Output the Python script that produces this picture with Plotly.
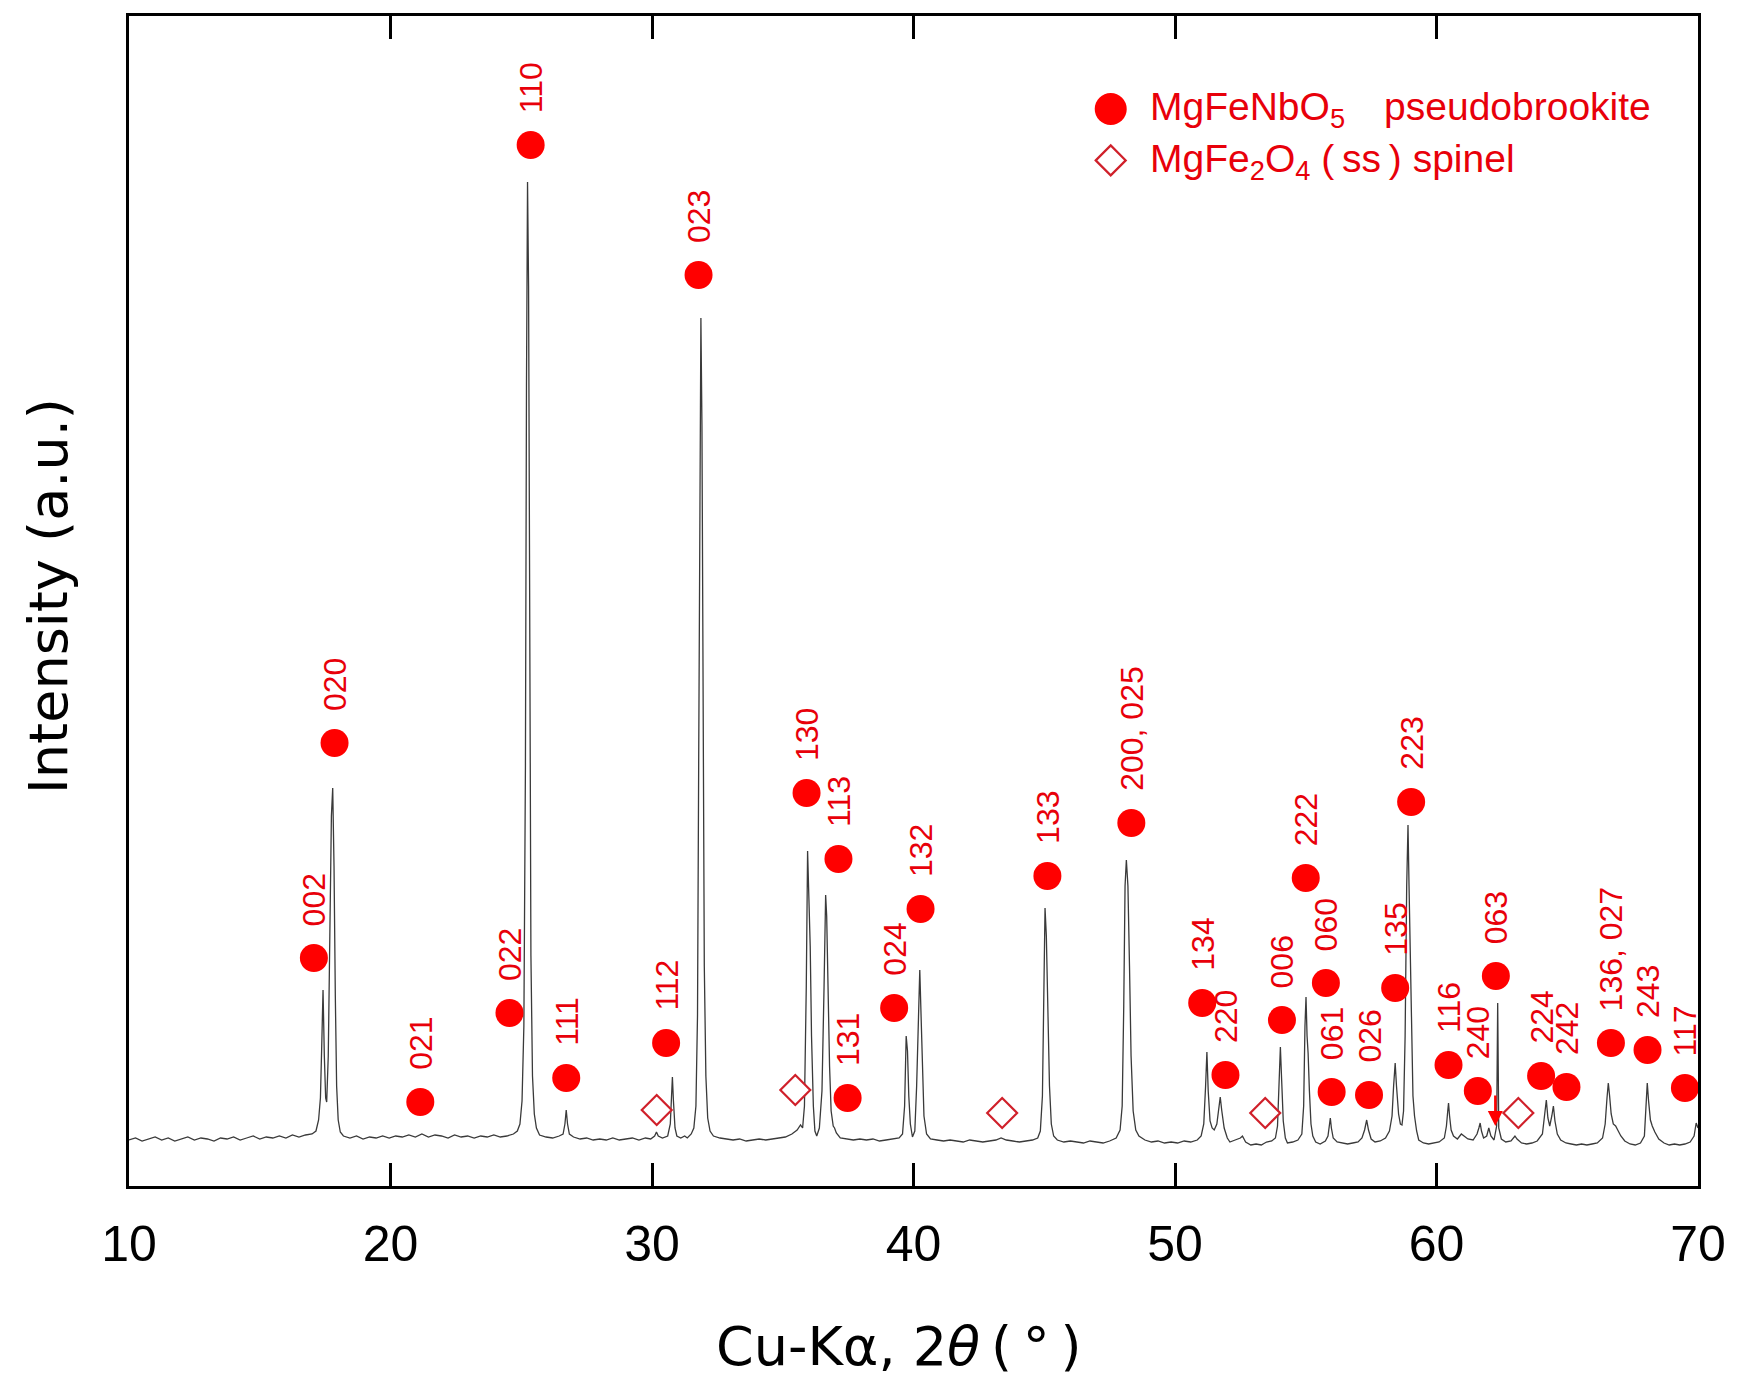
import plotly.graph_objects as go

# ---- XRD pattern (2theta in degrees, intensity a.u.) ----
two_theta = [
    10.0, 10.25, 10.5, 10.75, 11.0, 11.25, 11.5, 11.75, 12.0, 12.25, 12.5, 12.75, 13.0, 13.25, 13.5, 13.75,
    14.0, 14.25, 14.5, 14.75, 15.0, 15.25, 15.5, 15.75, 16.0, 16.25, 16.5, 16.75, 17.0,
    17.15, 17.25, 17.32, 17.37, 17.42, 17.47, 17.52, 17.56, 17.62, 17.68, 17.74, 17.79, 17.84, 17.89, 17.94,
    18.0, 18.08, 18.2,
    18.45, 18.7, 18.95, 19.2, 19.45, 19.7, 19.95, 20.2, 20.45, 20.7, 20.95, 21.2, 21.45, 21.7, 21.95, 22.2,
    22.45, 22.7, 22.95, 23.2, 23.45, 23.7, 23.95, 24.2, 24.45, 24.7,
    24.85, 24.95, 25.03, 25.1, 25.16, 25.2, 25.24, 25.28, 25.32, 25.37, 25.43, 25.5, 25.58, 25.7,
    25.95, 26.2, 26.45,
    26.6, 26.67, 26.72, 26.77, 26.84, 27.0,
    27.25, 27.5, 27.75, 28.0, 28.25, 28.5, 28.75, 29.0, 29.25, 29.5, 29.75, 29.95,
    30.1, 30.17, 30.24, 30.4,
    30.6, 30.7, 30.75, 30.78, 30.82, 30.88, 30.95, 31.1, 31.25, 31.35,
    31.5, 31.6, 31.68, 31.74, 31.79, 31.83, 31.87, 31.91, 31.95, 32.0, 32.06, 32.13, 32.22, 32.35,
    32.6, 32.85, 33.1, 33.35, 33.6, 33.85, 34.1, 34.35, 34.6, 34.85, 35.1, 35.35,
    35.55, 35.68, 35.76, 35.83, 35.9, 35.95, 35.99, 36.05, 36.1, 36.17, 36.23, 36.3, 36.4, 36.5, 36.58,
    36.64, 36.68, 36.73, 36.79, 36.85, 36.93, 36.98, 37.05, 37.2,
    37.45, 37.7, 37.95, 38.2, 38.45, 38.7, 38.95, 39.2, 39.45,
    39.58, 39.66, 39.72, 39.77, 39.82, 39.88, 39.96, 40.05, 40.12, 40.2, 40.24, 40.29, 40.34, 40.4, 40.5, 40.65,
    40.9, 41.15, 41.4, 41.65, 41.9, 42.15, 42.4, 42.65, 42.9, 43.15, 43.35, 43.55, 43.8, 44.05, 44.3, 44.55, 44.75,
    44.85, 44.93, 44.99, 45.03, 45.08, 45.14, 45.2, 45.27, 45.36, 45.5,
    45.75, 46.0, 46.25, 46.5, 46.75, 47.0, 47.25, 47.5, 47.75,
    47.9, 47.98, 48.04, 48.09, 48.14, 48.2, 48.26, 48.32, 48.4, 48.5, 48.62,
    48.85, 49.1, 49.35, 49.6, 49.85, 50.1, 50.35, 50.6, 50.85,
    51.0, 51.1, 51.17, 51.22, 51.27, 51.34, 51.42, 51.5, 51.6, 51.68, 51.73, 51.79, 51.88, 52.0, 52.1, 52.3,
    52.5, 52.58, 52.7, 52.9, 53.1, 53.3, 53.5, 53.7, 53.84,
    53.92, 53.98, 54.03, 54.08, 54.14, 54.22, 54.3, 54.5, 54.7,
    54.85, 54.92, 54.97, 55.01, 55.05, 55.09, 55.14, 55.2, 55.27, 55.38, 55.55, 55.75,
    55.85, 55.9, 55.94, 55.98, 56.05, 56.2, 56.4, 56.6, 56.8, 57.0, 57.15,
    57.25, 57.33, 57.4, 57.5, 57.65, 57.85, 58.05, 58.2, 58.3,
    58.36, 58.42, 58.47, 58.55, 58.62, 58.68, 58.74,
    58.8, 58.86, 58.91, 58.95, 59.0, 59.05, 59.1, 59.16, 59.24, 59.32, 59.5, 59.7, 59.9, 60.1, 60.3,
    60.38, 60.43, 60.46, 60.5, 60.56, 60.65, 60.8, 60.95, 61.05, 61.2, 61.4, 61.55,
    61.62, 61.67, 61.72, 61.8, 61.92, 62.0, 62.08, 62.2,
    62.3, 62.34, 62.38, 62.48, 62.65, 62.85, 63.0, 63.08, 63.25, 63.45, 63.65, 63.85, 64.05,
    64.13, 64.2, 64.26, 64.33, 64.41, 64.47, 64.53, 64.62, 64.75, 64.95, 65.15, 65.35, 65.55, 65.75, 65.95,
    66.15, 66.35,
    66.45, 66.52, 66.57, 66.62, 66.68, 66.76, 66.85, 66.95, 67.05, 67.2, 67.4, 67.6, 67.8, 67.95,
    68.0, 68.06, 68.11, 68.18, 68.25, 68.35, 68.5, 68.7, 68.9, 69.1, 69.3, 69.5, 69.7, 69.85, 69.93, 70.0,
]
intensity = [
    46, 48, 45, 47, 49, 46, 48, 45, 47, 49, 46, 48, 47, 45, 48, 47,
    49, 46, 48, 50, 47, 49, 48, 50, 48, 51, 49, 51, 52,
    55, 66, 88, 140, 196, 130, 88, 84, 130, 250, 370, 398, 320, 190, 100,
    66, 54, 50,
    48, 50, 47, 49, 48, 50, 48, 50, 49, 51, 49, 52, 49, 51, 50, 48,
    51, 49, 50, 48, 50, 49, 51, 49, 50, 52,
    55, 62, 85, 160, 420, 800, 1004, 900, 560, 230, 110, 72, 58, 51,
    49, 48, 50,
    52, 62, 76, 62, 52, 49,
    47, 48, 46, 47, 46, 48, 46, 47, 48, 46, 48, 47,
    50, 54, 50, 48,
    50, 62, 90, 109, 85, 58, 50, 48, 50, 48,
    52, 58, 80, 170, 450, 760, 868, 760, 480, 220, 110, 68, 55, 50,
    48, 47, 46, 47, 45, 46, 47, 46, 47, 48, 49, 52,
    56, 61, 58, 80, 200, 335, 300, 240, 150, 80, 55, 50, 58, 95, 200,
    291, 270, 200, 120, 75, 60, 58, 53, 48,
    47, 46, 47, 46, 47, 45, 46, 47, 48,
    52, 80, 150, 135, 90, 62, 49, 55, 100, 200, 216, 170, 120, 70, 52, 47,
    46, 45, 46, 45, 44, 46, 45, 44, 45, 46, 48, 46, 45, 44, 45, 46, 48,
    55, 90, 200, 278, 250, 180, 100, 62, 50, 46,
    44, 45, 44, 43, 45, 44, 43, 45, 48,
    56, 80, 180, 300, 326, 300, 220, 130, 75, 56, 50,
    46, 44, 45, 43, 44, 43, 45, 44, 46,
    50, 62, 100, 134, 95, 65, 58, 56, 62, 80, 89, 75, 58, 48, 44, 46,
    48, 50, 44, 41, 42, 41, 44, 45, 48,
    60, 100, 139, 105, 65, 48, 43, 44, 46,
    52, 80, 160, 189, 150, 133, 95, 62, 50, 44, 42, 45,
    50, 60, 68, 58, 48, 44, 43, 42, 43, 44, 48,
    56, 66, 56, 47, 44, 45, 48, 55, 70,
    100, 123, 100, 72, 62, 61, 75,
    150, 300, 361, 300, 239, 160, 90, 70, 55, 46, 43, 42, 43, 44, 48,
    60, 75, 83, 70, 56, 50, 47, 52, 50, 47, 46, 52,
    58, 63, 55, 48, 50, 58, 50, 46,
    60, 183, 58, 47, 44, 45, 50, 47, 43, 42, 43, 45, 52,
    70, 86, 68, 60, 70, 80, 65, 52, 46, 43, 42, 41, 42, 41, 42,
    43, 48,
    62, 88, 103, 90, 72, 62, 60, 55, 50, 45, 42, 41, 43, 50,
    75, 103, 85, 66, 60, 54, 47, 43, 41, 42, 41, 42, 44, 50, 63, 58,
]

# ---- MgFeNbO5 pseudobrookite reflections (marker positions) ----
pb_hkl = ["002", "020", "021", "022", "110", "111", "112", "023", "130", "113", "131", "024",
          "132", "133", "200, 025", "134", "220", "006", "222", "060", "061", "026", "135", "223",
          "116", "240", "063", "224", "242", "136, 027", "243", "117"]
pb_x = [17.07, 17.86, 21.14, 24.55, 25.36, 26.72, 30.54, 31.78, 35.91, 37.13, 37.48, 39.26,
        40.27, 45.12, 48.33, 51.04, 51.93, 54.09, 55.00, 55.77, 55.99, 57.42, 58.42, 59.03,
        60.46, 61.58, 62.27, 64.00, 64.97, 66.67, 68.07, 69.50]
pb_y = [228, 443, 84, 173, 1041, 108, 143, 911, 393, 327, 88, 178,
        277, 310, 363, 183, 111, 166, 308, 203, 94, 91, 198, 384,
        121, 95, 210, 110, 99, 143, 136, 98]

# ---- MgFe2O4 (ss) spinel reflections ----
sp_x = [30.18, 35.48, 43.39, 53.45, 63.13]
sp_y = [76, 96, 73, 73, 73]

# small arrow mark
arrow_x = 62.25
arrow_y = 60

x_ticks = [10, 20, 30, 40, 50, 60, 70]

RED = "#ff0000"
LABEL_RED = "#e8000a"
DIA_RED = "#d0202a"
FONT = "Arial, Liberation Sans, sans-serif"
TITLE_FONT = "DejaVu Sans, Arial, sans-serif"

fig = go.Figure()
fig.add_trace(go.Scatter(x=two_theta, y=intensity, mode="lines",
                         line=dict(color="#3a3a3a", width=1.3), hoverinfo="skip",
                         showlegend=False))
fig.add_trace(go.Scatter(x=sp_x, y=sp_y, mode="markers", cliponaxis=False,
                         marker=dict(symbol="diamond", size=23, color="white",
                                     line=dict(color=DIA_RED, width=2.2)),
                         showlegend=False))
fig.add_trace(go.Scatter(x=pb_x, y=pb_y, mode="markers", cliponaxis=False,
                         marker=dict(symbol="circle", size=28, color=RED,
                                     line=dict(width=0)),
                         showlegend=False))

annotations = []
for h, x, y in zip(pb_hkl, pb_x, pb_y):
    annotations.append(dict(x=x, y=y, xref="x", yref="y", text=h, showarrow=False,
                            textangle=-90, yanchor="bottom", xanchor="center",
                            yshift=30, font=dict(family=FONT, size=32, color=LABEL_RED)))

annotations.append(dict(x=arrow_x, y=arrow_y, xref="x", yref="y", text="", showarrow=True,
                        arrowhead=2, arrowsize=1.2, arrowwidth=2.5, arrowcolor=RED,
                        ax=0, ay=-32))

# axis titles
annotations.append(dict(x=0.491, y=-0.1376, xref="paper", yref="paper",
                        text="Cu-K\u03b1, 2<i>\u03b8</i>\u2009(\u2009\u00b0\u2009)", showarrow=False,
                        xanchor="center", yanchor="middle",
                        font=dict(family=TITLE_FONT, size=54, color="black")))
annotations.append(dict(x=-0.0509, y=0.5043, xref="paper", yref="paper",
                        text="Intensity (a.u.)", showarrow=False, textangle=-90,
                        xanchor="center", yanchor="middle",
                        font=dict(family=TITLE_FONT, size=54, color="black")))

# legend text
annotations.append(dict(x=0.6493, y=0.920, xref="paper", yref="paper",
                        text="MgFeNbO<sub>5</sub>\u3000pseudobrookite", showarrow=False,
                        xanchor="left", yanchor="middle",
                        font=dict(family=FONT, size=39, color=LABEL_RED)))
annotations.append(dict(x=0.6493, y=0.876, xref="paper", yref="paper",
                        text="MgFe<sub>2</sub>O<sub>4</sub> (\u2009ss\u2009) spinel", showarrow=False,
                        xanchor="left", yanchor="middle",
                        font=dict(family=FONT, size=39, color=LABEL_RED)))

shapes = [
    dict(type="circle", xref="paper", yref="paper", xsizemode="pixel", ysizemode="pixel",
         xanchor=0.6257, yanchor=0.9205, x0=-16, x1=16, y0=-16, y1=16,
         fillcolor=RED, line=dict(width=0)),
    dict(type="path", xref="paper", yref="paper", xsizemode="pixel", ysizemode="pixel",
         xanchor=0.6257, yanchor=0.8766, path="M -15 0 L 0 15 L 15 0 L 0 -15 Z",
         fillcolor="white", line=dict(color=DIA_RED, width=2.2)),
]

fig.update_layout(
    width=1738, height=1382,
    margin=dict(l=129, r=38, t=16, b=196),
    paper_bgcolor="white", plot_bgcolor="white",
    annotations=annotations, shapes=shapes,
    showlegend=False,
    xaxis=dict(range=[10, 70], tickvals=x_ticks, ticktext=[str(v) for v in x_ticks],
               ticks="inside", ticklen=23, tickwidth=2.5, tickcolor="black",
               showline=True, linewidth=3, linecolor="black", mirror="ticks",
               showgrid=False, zeroline=False, ticklabelstandoff=12,
               tickfont=dict(family=FONT, size=50, color="black")),
    yaxis=dict(range=[0, 1170], showticklabels=False, ticks="",
               showline=True, linewidth=3, linecolor="black", mirror=True,
               showgrid=False, zeroline=False),
)

fig.write_html("out.html")
